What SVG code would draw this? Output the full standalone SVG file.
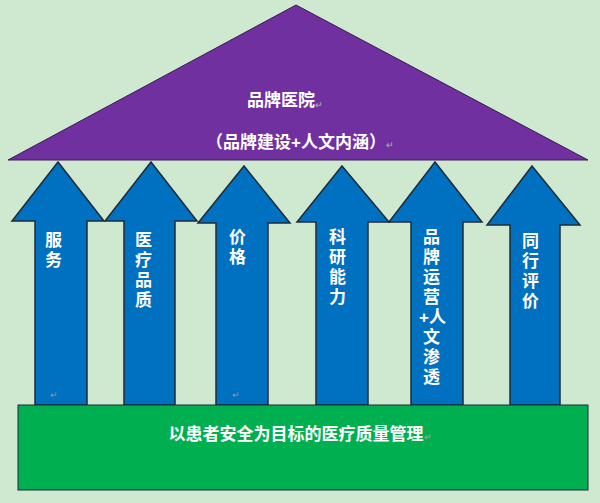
<svg xmlns="http://www.w3.org/2000/svg" width="600" height="503" viewBox="0 0 600 503">
<style>
.ar{fill:#0070c0;stroke:#1f2a38;stroke-width:1.5}
.t{font-family:"Liberation Sans","Noto Sans CJK SC",sans-serif;font-size:17px;fill:#fff;font-weight:bold}
.m{font-family:"Liberation Sans","Noto Sans CJK SC",sans-serif;font-size:9px;fill:#999}
</style>
<rect width="600" height="503" fill="#cfe8d0"/>
<g id="roof"><polygon points="296,5 8,160 588,160" fill="#7030a0" stroke="#3a1a55" stroke-width="1"/>
<text class="t" x="285" y="106" text-anchor="middle">品牌医院<tspan class="m" dy="2">↵</tspan></text>
<text class="t" x="300" y="148" text-anchor="middle">（品牌建设+人文内涵）<tspan class="m">↵</tspan></text></g>
<g id="connectors">
<g id="a1"><polygon class="ar" points="58,162 104,221 87,221 87,405 35,405 35,221 12,221"/><text class="t" x="45" y="246">服</text><text class="t" x="45" y="266">务</text><text class="m" x="50" y="398">↵</text></g>
<g id="a2"><polygon class="ar" points="151,162 197,221 175,221 175,405 124,405 124,221 105,221"/><text class="t" x="135" y="246">医</text><text class="t" x="135" y="266">疗</text><text class="t" x="135" y="286">品</text><text class="t" x="135" y="306">质</text></g>
<g id="a3"><polygon class="ar" points="244,166 290,223 268,223 268,405 216,405 216,223 198,223"/><text class="t" x="229" y="243">价</text><text class="t" x="229" y="263">格</text><text class="m" x="232" y="398">↵</text></g>
<g id="a4"><polygon class="ar" points="342,166 389,222 368,222 368,405 316,405 316,222 297,222"/><text class="t" x="329" y="243">科</text><text class="t" x="329" y="263">研</text><text class="t" x="329" y="283">能</text><text class="t" x="329" y="303">力</text></g>
<g id="a5"><polygon class="ar" points="435,162 482,222 463,222 463,405 411,405 411,222 389,222"/><text class="t" x="423" y="243">品</text><text class="t" x="423" y="263">牌</text><text class="t" x="423" y="283">运</text><text class="t" x="423" y="303">营</text><text class="t" x="419" y="323">+人</text><text class="t" x="423" y="343">文</text><text class="t" x="423" y="363">渗</text><text class="t" x="423" y="383">透</text></g>
<g id="a6"><polygon class="ar" points="532,166 580,225 560,225 560,405 510,405 510,225 487,225"/><text class="t" x="522" y="247">同</text><text class="t" x="522" y="267">行</text><text class="t" x="522" y="287">评</text><text class="t" x="522" y="307">价</text></g>
</g>
<g id="base"><rect x="18" y="405" width="570" height="85" fill="#00b050" stroke="#1f2a38" stroke-width="1"/>
<text class="t" x="300" y="440" text-anchor="middle">以患者安全为目标的医疗质量管理<tspan class="m">↵</tspan></text></g>
</svg>
